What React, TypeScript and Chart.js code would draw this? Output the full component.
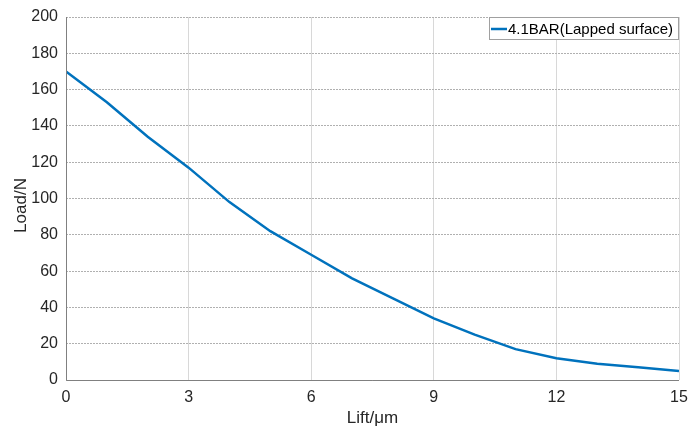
import React, { useEffect, useRef } from "react";
import { Chart, registerables } from "chart.js";

Chart.register(...registerables);

const liftValues = [0, 1, 2, 3, 4, 5, 6, 7, 8, 9, 10, 11, 12, 13, 14, 15];
const loadValues = [170, 153, 134, 117, 98, 82, 69, 56, 45, 34, 25, 17, 12, 9, 7, 5];
const seriesLabel = "4.1BAR(Lapped surface)";
const xTitle = "Lift/μm";
const yTitle = "Load/N";
const xTicks = [0, 3, 6, 9, 12, 15];
const yTicks = [0, 20, 40, 60, 80, 100, 120, 140, 160, 180, 200];

const FONT = "'Liberation Sans', Arial, sans-serif";
const BLUE = "#0072BD";

const insideLegend = {
  id: "insideLegend",
  afterDraw(chart: any) {
    const { ctx, chartArea } = chart;
    const ds = chart.data.datasets[0];
    ctx.save();
    ctx.font = `15px ${FONT}`;
    const tw = ctx.measureText(ds.label).width;
    const h = 22;
    const w = Math.round(tw + 24);
    const x = Math.round(chartArea.right - 1 - w);
    const y = Math.round(chartArea.top);
    ctx.fillStyle = "#ffffff";
    ctx.fillRect(x, y, w, h);
    ctx.strokeStyle = "#a0a0a0";
    ctx.lineWidth = 1;
    ctx.strokeRect(x + 0.5, y + 0.5, w, h);
    ctx.strokeStyle = BLUE;
    ctx.lineWidth = 2.5;
    ctx.beginPath();
    ctx.moveTo(x + 2, y + h / 2 + 1);
    ctx.lineTo(x + 18, y + h / 2 + 1);
    ctx.stroke();
    ctx.fillStyle = "#000000";
    ctx.textBaseline = "middle";
    ctx.fillText(ds.label, x + 19, y + h / 2 + 1.5);
    ctx.restore();
  },
};

const frameAndTitles = {
  id: "frameAndTitles",
  afterDatasetsDraw(chart: any) {
    const { ctx, chartArea } = chart;
    ctx.save();
    ctx.strokeStyle = "#808080";
    ctx.lineWidth = 1;
    ctx.beginPath();
    ctx.moveTo(Math.round(chartArea.left) + 0.5, chartArea.top);
    ctx.lineTo(Math.round(chartArea.left) + 0.5, Math.round(chartArea.bottom) + 0.5);
    ctx.lineTo(chartArea.right, Math.round(chartArea.bottom) + 0.5);
    ctx.stroke();
    ctx.fillStyle = "#262626";
    ctx.font = `17px ${FONT}`;
    ctx.textAlign = "center";
    ctx.textBaseline = "middle";
    ctx.fillText(xTitle, (chartArea.left + chartArea.right) / 2, chartArea.bottom + 38);
    ctx.translate(21, (chartArea.top + chartArea.bottom) / 2 + 7);
    ctx.rotate(-Math.PI / 2);
    ctx.fillText(yTitle, 0, 0);
    ctx.restore();
  },
};

export default function App() {
  const ref = useRef<HTMLCanvasElement | null>(null);
  useEffect(() => {
    document.body.style.margin = "0";
    const chart = new Chart(ref.current as HTMLCanvasElement, {
      type: "line",
      data: {
        datasets: [
          {
            label: seriesLabel,
            data: liftValues.map((x, i) => ({ x, y: loadValues[i] })),
            borderColor: BLUE,
            backgroundColor: BLUE,
            borderWidth: 2.5,
            pointRadius: 0,
            tension: 0,
          },
        ],
      },
      options: {
        animation: false,
        responsive: false,
        layout: { padding: { top: 17, right: 10, left: 0, bottom: 0 } },
        plugins: { legend: { display: false }, tooltip: { enabled: false } },
        scales: {
          x: {
            type: "linear",
            min: 0,
            max: 15,
            afterBuildTicks: (s: any) => {
              s.ticks = xTicks.map((v) => ({ value: v }));
            },
            afterFit: (s: any) => {
              s.height = 52;
              s.paddingLeft = 0;
              s.paddingRight = 0;
            },
            grid: { color: "#d8d8d8", drawTicks: false, lineWidth: 1 },
            border: { display: false },
            ticks: { color: "#262626", font: { family: FONT, size: 16 }, padding: 8, maxRotation: 0 },
          },
          y: {
            min: 0,
            max: 200,
            afterBuildTicks: (s: any) => {
              s.ticks = yTicks.map((v) => ({ value: v }));
            },
            afterFit: (s: any) => {
              s.width = 66;
              s.paddingTop = 0;
              s.paddingBottom = 0;
            },
            grid: { color: "#b0b0b0", drawTicks: false, lineWidth: 1 },
            border: { display: false, dash: [2, 1] },
            ticks: { color: "#262626", font: { family: FONT, size: 16 }, padding: 8 },
          },
        },
      },
      plugins: [frameAndTitles, insideLegend],
    } as any);
    return () => chart.destroy();
  }, []);
  return (
    <div style={{ width: 689, height: 432 }}>
      <canvas ref={ref} width={689} height={432} />
    </div>
  );
}
